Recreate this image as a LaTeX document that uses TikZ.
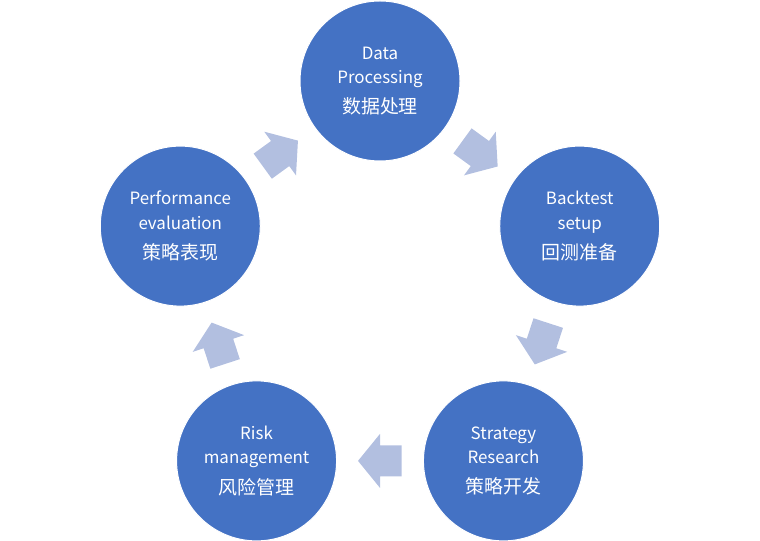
\documentclass[tikz,border=0pt]{standalone}
\usepackage{fontspec}
\setmainfont{Noto Sans CJK SC}
\usetikzlibrary{calc}
\definecolor{cfill}{HTML}{4472C4}
\definecolor{afill}{RGB}{178,191,224}
\tikzset{
  stage/.style={circle, fill=cfill, draw=white, line width=1bp, minimum size=160bp,
    inner sep=0pt, text=white, align=center, font=\fontsize{17}{24.5}\selectfont},
  cyc/.style={fill=afill, draw=none}
}
\newcommand{\zhline}[1]{\\[6bp]{\fontsize{19}{24}\selectfont #1}}
\begin{document}
\begin{tikzpicture}[x=1bp,y=1bp]
\useasboundingbox (0,0) rectangle (760,541);
\coordinate (O) at (380,250);
\node[stage] (dp) at ($(O)+(90:210)$) {Data\\Processing\zhline{数据处理}};
\node[stage] (bt) at ($(O)+(18:210)$) {Backtest\\setup\zhline{回测准备}};
\node[stage] (sr) at ($(O)+(-54:210)$) {Strategy\\Research\zhline{策略开发}};
\node[stage] (rm) at ($(O)+(-126:210)$) {Risk\\management\zhline{风险管理}};
\node[stage] (pe) at ($(O)+(162:210)$) {Performance\\evaluation\zhline{策略表现}};
\foreach \a/\b/\r in {dp/bt/-36, bt/sr/-108, sr/rm/180, rm/pe/108, pe/dp/36}{
  \path[cyc, shift={($(\a)!0.5!(\b)$)}, rotate=\r]
    (22,0) -- (0,27) -- (0,15.5) -- (-21.5,15.5) -- (-21.5,-15.5) -- (0,-15.5) -- (0,-27) -- cycle;
}
\end{tikzpicture}
\end{document}
